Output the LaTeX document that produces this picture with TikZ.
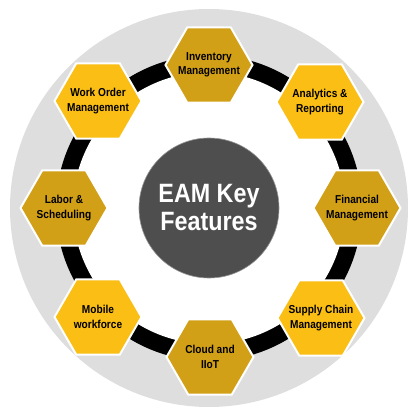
\documentclass[tikz,border=0pt]{standalone}
\usepackage{fontspec}
\setmainfont{Liberation Sans}[FakeStretch=0.88]
\definecolor{outergray}{RGB}{222,222,222}
\definecolor{darkgold}{RGB}{210,160,22}
\definecolor{brightgold}{RGB}{250,190,20}
\definecolor{hubgray}{RGB}{78,78,78}
\definecolor{hubedge}{RGB}{150,150,150}
\tikzset{
  hexshape/.style={draw=white, line width=2pt, line join=miter},
  hextext/.style={align=center, text=black, inner sep=0pt,
    font=\bfseries\fontsize{11.5}{14.3}\selectfont},
}
\newcommand{\hexfeat}[4]{%
  \coordinate (#1) at (#3);
  \filldraw[hexshape, fill=#2] ([shift={(0:43.5)}]#1)
    -- ([shift={(60:43.5)}]#1) -- ([shift={(120:43.5)}]#1)
    -- ([shift={(180:43.5)}]#1) -- ([shift={(240:43.5)}]#1)
    -- ([shift={(300:43.5)}]#1) -- cycle;
  \node[hextext] (#1-t) at (#1) {#4};
}
\begin{document}
\begin{tikzpicture}[x=1pt,y=1pt]
\useasboundingbox (-210,-210) rectangle (210,210);
\fill[outergray] (-1,2) circle (199);
\fill[black] (-1,2) circle (153);
\fill[white] (-1,2) circle (136);
\node[circle, minimum size=140pt, fill=hubgray, draw=hubedge, line width=0.6pt, text=white, align=center,
  font=\bfseries\fontsize{26.5}{28}\selectfont] (hub) at (-1,2) {EAM Key\\Features};
\hexfeat{inv}{darkgold}{-1,145}{Inventory\\Management}
\hexfeat{ana}{brightgold}{110,108}{Analytics \&\\Reporting}
\hexfeat{fin}{darkgold}{147,2}{Financial\\Management}
\hexfeat{sup}{brightgold}{111,-108}{Supply Chain\\Management}
\hexfeat{clo}{darkgold}{0,-147}{Cloud and\\IIoT}
\hexfeat{mob}{brightgold}{-112,-107}{Mobile\\workforce}
\hexfeat{lab}{darkgold}{-146,2}{Labor \&\\Scheduling}
\hexfeat{wor}{brightgold}{-112,109}{Work Order\\Management}
\end{tikzpicture}
\end{document}
